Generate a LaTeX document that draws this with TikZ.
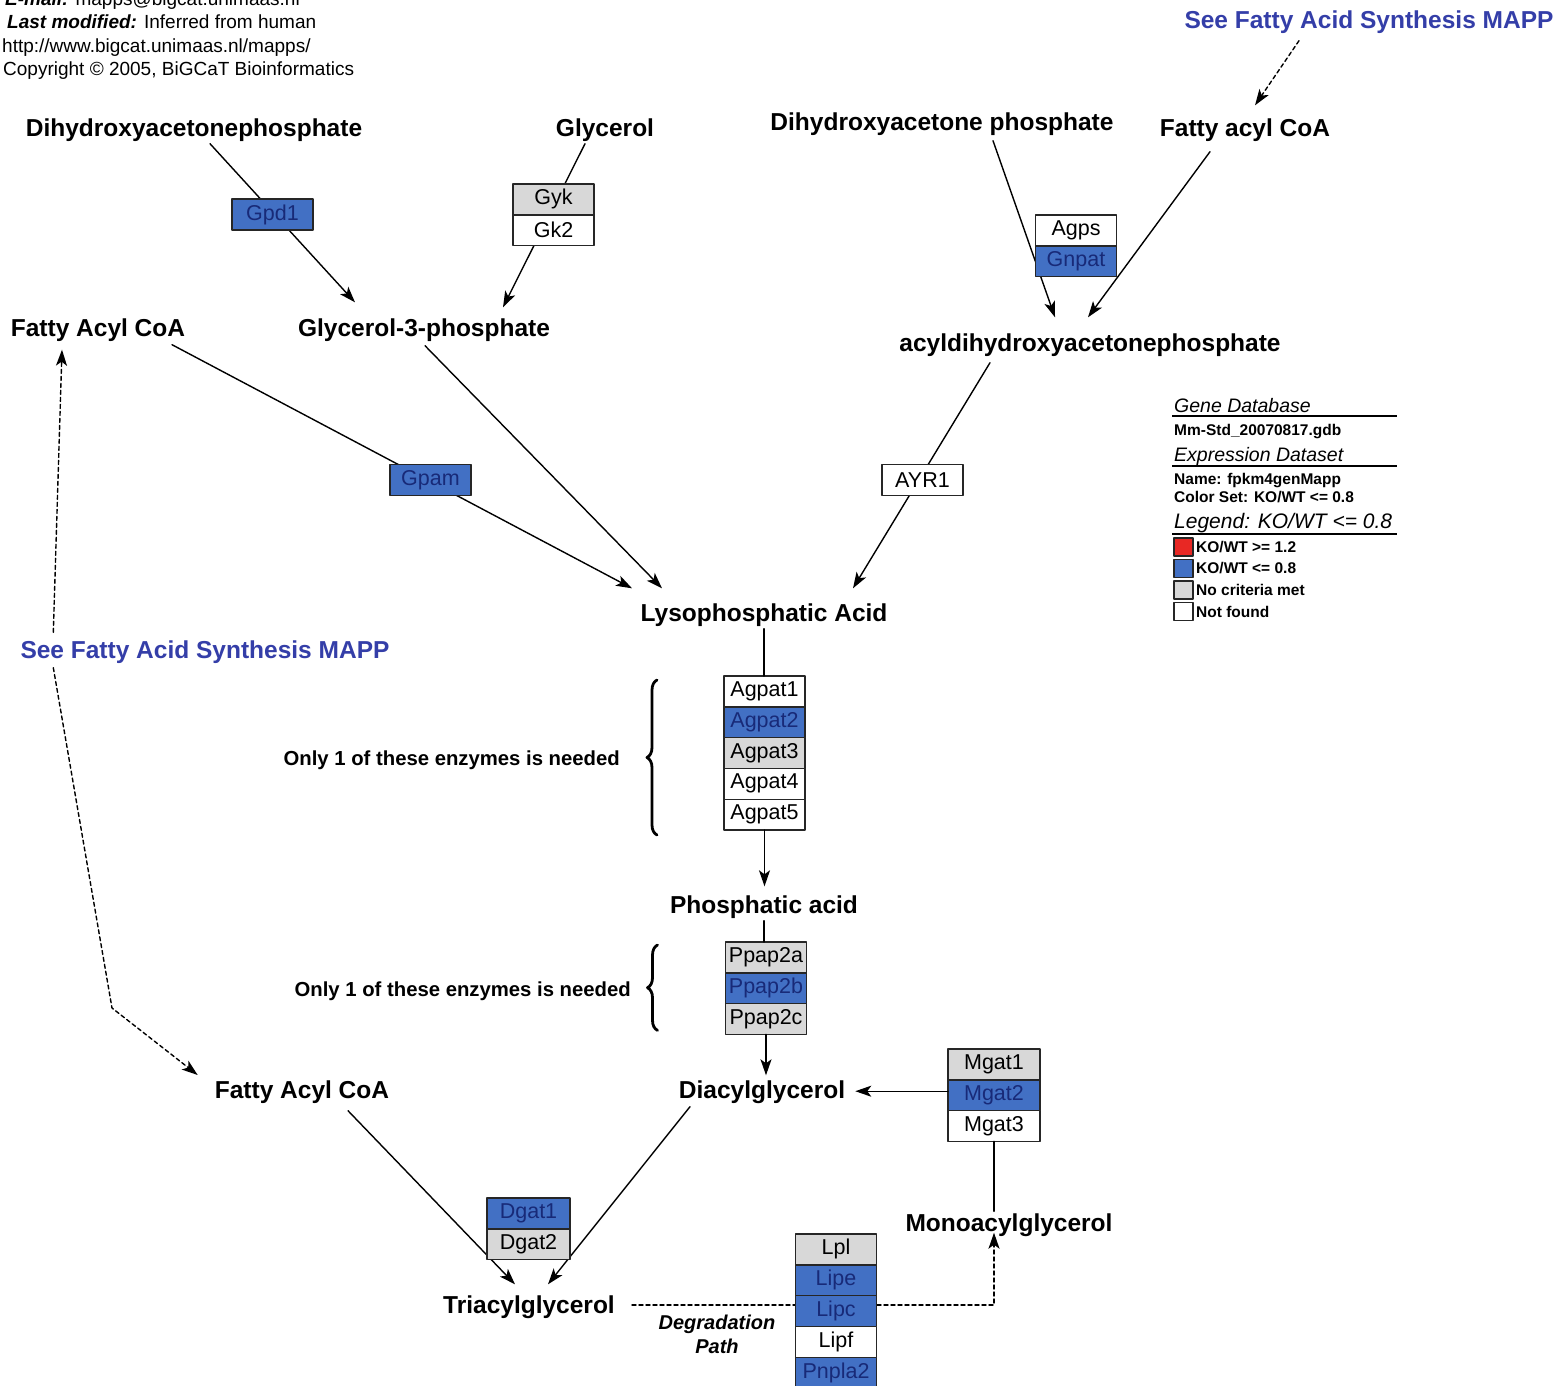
\documentclass[tikz,border=0pt]{standalone}
\usepackage{fontspec}
\setmainfont{Liberation Sans}
\usetikzlibrary{arrows.meta,positioning,calc,decorations.pathreplacing}
\definecolor{koblue}{RGB}{66,112,196}
\definecolor{kotext}{RGB}{24,42,120}
\definecolor{ncgray}{RGB}{216,216,216}
\definecolor{linkblue}{RGB}{52,62,168}
\definecolor{kored}{RGB}{232,40,36}
\newcommand{\metfont}{\bfseries\fontsize{24.5}{28}\selectfont}
\newcommand{\genfont}{\fontsize{21.5}{24}\selectfont}
\newcommand{\notefont}{\bfseries\fontsize{20.3}{24}\selectfont}
\newcommand{\headfont}{\fontsize{19}{23}\selectfont}
\newcommand{\legfont}{\bfseries\fontsize{15.5}{18}\selectfont}

\begin{document}
\begin{tikzpicture}[x=1pt,y=-1pt,line cap=round,line join=round,
    met/.style={font=\metfont,inner sep=2pt,text height=18pt,text depth=5pt},
    link/.style={met,text=linkblue},
    gene/.style={draw=black!85,line width=1.4pt,minimum width=81pt,minimum height=30.8pt,
      inner sep=0pt,outer sep=0pt,font=\genfont},
    gblue/.style={gene,fill=koblue,text=kotext},
    ggray/.style={gene,fill=ncgray},
    gwhite/.style={gene,fill=white},
    rxn/.style={line width=1.4pt,-{Stealth[length=16pt,width=11pt,inset=4pt]}},
    mapplink/.style={rxn,dash pattern=on 4pt off 3pt},
    note/.style={font=\notefont,anchor=east,inner sep=0pt,text height=15pt,text depth=4pt},
    brace/.style={line width=2.8pt,decorate,decoration={brace,amplitude=10pt}},
    head/.style={anchor=base west,inner sep=0pt,font=\headfont},
    leghead/.style={anchor=base west,inner sep=0pt,font=\itshape\fontsize{19.5}{22}\selectfont},
    legtext/.style={anchor=base west,inner sep=0pt,font=\legfont},
    legline/.style={line width=2.6pt,line cap=butt},
    swatch/.style={draw=black!85,line width=1.2pt,minimum width=19pt,minimum height=18pt,
      inner sep=0pt,outer sep=0pt,anchor=north west}]
\useasboundingbox (0,0) rectangle (1564,1386);

% header
\node[head] (head1) at (5,6) {\textbf{\textit{E-mail:}} mapps@bigcat.unimaas.nl};
\node[head] (head2) at (7,29) {\textbf{\textit{Last modified:}} Inferred from human};
\node[head] (head3) at (2,53) {http://www.bigcat.unimaas.nl/mapps/};
\node[head] (head4) at (3,76) {Copyright © 2005, BiGCaT Bioinformatics};

% metabolites
\node[met] (dhap) at (194,130) {Dihydroxyacetonephosphate};
\node[met] (glyc) at (605,130) {Glycerol};
\node[met] (dhap2) at (942,124) {Dihydroxyacetone phosphate};
\node[met] (facR) at (1245,130) {Fatty acyl CoA};
\node[link] (seeR) at (1369,22) {See Fatty Acid Synthesis MAPP};
\node[met] (fac1) at (98,330) {Fatty Acyl CoA};
\node[met] (g3p) at (424,330) {Glycerol-3-phosphate};
\node[met] (acyl) at (1090,345) {acyldihydroxyacetonephosphate};
\node[met] (lpa) at (764,615) {Lysophosphatic Acid};
\node[link] (seeL) at (205,652) {See Fatty Acid Synthesis MAPP};
\node[met] (pa) at (764,907) {Phosphatic acid};
\node[met] (fac3) at (302,1092) {Fatty Acyl CoA};
\node[met] (dag) at (762,1092) {Diacylglycerol};
\node[met] (mag) at (1009,1225) {Monoacylglycerol};
\node[met] (tag) at (529,1307) {Triacylglycerol};

% reactions, under the enzyme boxes
\draw[rxn] ($(dhap.south)+(16,0)$) -- ($(g3p.north)+(-69,-14)$);
\draw[rxn] ($(glyc.south)+(-20,0)$) -- ($(g3p.north)+(79,-9)$);
\draw[rxn] ($(dhap2.south)+(51,3)$) -- ($(acyl.north)+(-35,-14)$);
\draw[rxn] ($(facR.south)+(-35,8)$) -- ($(acyl.north)+(-2,-14)$);
\draw[mapplink] ($(seeR.south)+(-70,5)$) -- ($(facR.north)+(10,-11)$);
\draw[rxn] ($(fac1.south)+(74,1)$) -- ($(lpa.north)+(-132,-13)$);
\draw[rxn] ($(g3p.south)+(1,2)$) -- ($(lpa.north)+(-102,-13)$);
\draw[rxn] ($(acyl.south)+(-100,4)$) -- ($(lpa.north)+(89,-13)$);
\draw[mapplink] ($(seeL.north west)+(35,-6)$) -- ($(fac1.south)+(-36,6)$);
\coordinate (bend) at (112,1008);
\draw[mapplink] ($(seeL.south west)+(35,2)$) -- (bend) -- ($(fac3.west)+(-15,-17)$);
\draw[rxn] ($(fac3.south)+(46,5)$) -- ($(tag.north)+(-14,-9)$);
\draw[rxn] ($(dag.south)+(-72,1)$) -- ($(tag.north)+(19,-9)$);
\coordinate (turn) at (994,1305);
\draw[mapplink,shorten >=-6pt] ($(tag.east)+(15,-2)$) -- (turn) -- (turn |- mag.south);

% enzymes
\node[gblue] (gpd1) at (272.5,214.5) {Gpd1};
\node[ggray] (gyk) at (553.5,199.4) {Gyk};
\node[gwhite,below=0pt of gyk] (gk2) {Gk2};
\node[gwhite] (agps) at (1076,230.4) {Agps};
\node[gblue,below=0pt of agps] (gnpat) {Gnpat};
\node[gblue] (gpam) at (430.5,480) {Gpam};
\node[gwhite] (ayr1) at (922.5,480) {AYR1};
\node[gwhite] (agpat1) at (764.5,691.4) {Agpat1};
\node[gblue,below=0pt of agpat1] (agpat2) {Agpat2};
\node[ggray,below=0pt of agpat2] (agpat3) {Agpat3};
\node[gwhite,below=0pt of agpat3] (agpat4) {Agpat4};
\node[gwhite,below=0pt of agpat4] (agpat5) {Agpat5};
\node[ggray] (ppap2a) at (766,957.4) {Ppap2a};
\node[gblue,below=0pt of ppap2a] (ppap2b) {Ppap2b};
\node[ggray,below=0pt of ppap2b] (ppap2c) {Ppap2c};
\node[ggray,minimum width=92pt] (mgat1) at (994,1064.4) {Mgat1};
\node[gblue,minimum width=92pt,below=0pt of mgat1] (mgat2) {Mgat2};
\node[gwhite,minimum width=92pt,below=0pt of mgat2] (mgat3) {Mgat3};
\node[gblue,minimum width=83pt] (dgat1) at (528.5,1213.4) {Dgat1};
\node[ggray,minimum width=83pt,below=0pt of dgat1] (dgat2) {Dgat2};
\node[ggray] (lpl) at (836,1249.4) {Lpl};
\node[gblue,below=0pt of lpl] (lipe) {Lipe};
\node[gblue,below=0pt of lipe] (lipc) {Lipc};
\node[gwhite,below=0pt of lipc] (lipf) {Lipf};
\node[gblue,below=0pt of lipf] (pnpla2) {Pnpla2};

% straight steps
\draw[line width=1.4pt] (lpa) -- (lpa |- agpat1.north);
\draw[rxn,shorten >=7pt] (agpat5) -- (agpat5 |- pa.north);
\draw[line width=1.4pt] (pa) -- (pa |- ppap2a.north);
\draw[rxn,shorten >=3pt] (ppap2c) -- (ppap2c |- dag.north);
\draw[rxn,shorten >=8pt] ($(mgat2.west)+(0,-4)$) -- ($(mgat2.west -| dag.east)+(0,-4)$);
\draw[line width=1.4pt] (mgat3) -- (mgat3 |- mag.north);

% either enzyme will do
\draw[brace] ($(agpat5.south west)+(-67,5)$) -- ($(agpat1.north west)+(-67,4)$);
\node[note] (only1) at (620,760) {Only 1 of these enzymes is needed};
\draw[brace] ($(ppap2c.south west)+(-68,-4)$) -- ($(ppap2a.north west)+(-68,3)$);
\node[note] (only2) at (631,991) {Only 1 of these enzymes is needed};
\node[font=\bfseries\itshape\fontsize{20}{24}\selectfont,align=center] (degr) at (717,1334) {Degradation\\Path};

% legend
\node[leghead] (gdb) at (1174,412) {Gene Database};
\draw[legline] (1172,416) -- (1397,416);
\node[legtext] (gdbname) at (1174,435) {Mm-Std\_20070817.gdb};
\node[leghead] (expr) at (1174,461) {Expression Dataset};
\draw[legline] (1172,466) -- (1397,466);
\node[legtext] (exprname) at (1174,484.5) {Name: fpkm4genMapp};
\node[legtext] (colset) at (1174,502.5) {Color Set: KO/WT <= 0.8};
\node[leghead,font=\itshape\fontsize{21}{24}\selectfont] (legend) at (1174,528) {Legend: KO/WT <= 0.8};
\draw[legline] (1172,534) -- (1397,534);
\node[swatch,fill=kored] (swred) at (1174,538) {};
\node[swatch,fill=koblue] (swblue) at (1174,559.5) {};
\node[swatch,fill=ncgray] (swgray) at (1174,581) {};
\node[swatch,fill=white] (swwhite) at (1174,602.5) {};
\node[legtext,right=3pt of swred] (lred) {KO/WT >= 1.2};
\node[legtext,right=3pt of swblue] (lblue) {KO/WT <= 0.8};
\node[legtext,right=3pt of swgray] (lgray) {No criteria met};
\node[legtext,right=3pt of swwhite] (lwhite) {Not found};
\end{tikzpicture}
\end{document}
